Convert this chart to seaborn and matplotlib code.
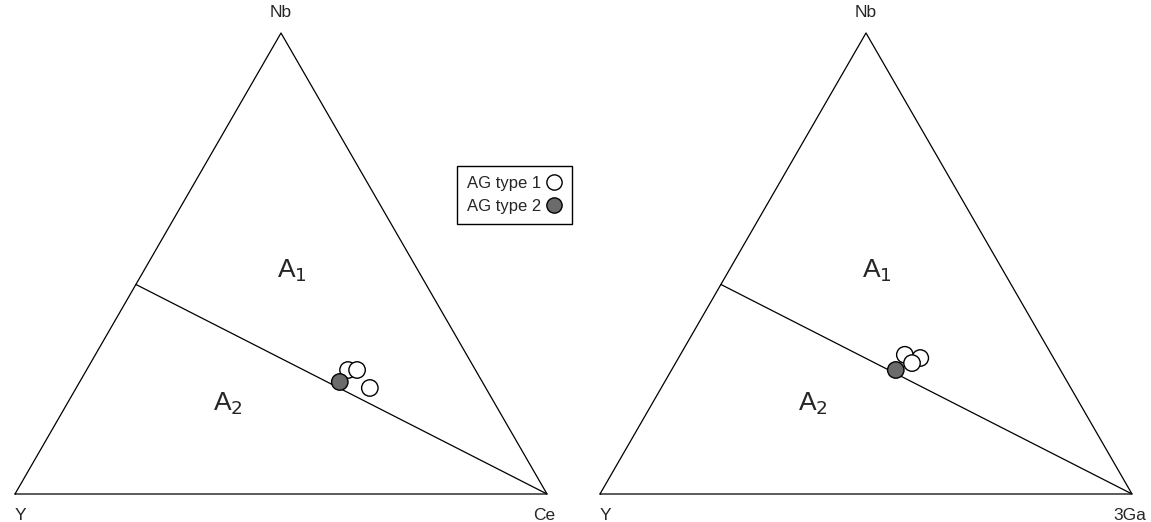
import numpy as np
import pandas as pd
import matplotlib

matplotlib.use('Agg')
import matplotlib.pyplot as plt
from matplotlib.lines import Line2D
import seaborn as sns

sns.set_style('white')
plt.rcParams['font.family'] = ['Liberation Sans', 'DejaVu Sans']

# --- dane: skład trójskładnikowy (ułamki) ---
# lewy diagram: Nb - Y - Ce
nb_left = [0.230, 0.269, 0.269, 0.243]
ce_left = [0.552, 0.4915, 0.5085, 0.489]
grp_left = ['AG type 1', 'AG type 1', 'AG type 1', 'AG type 2']

# prawy diagram: Nb - Y - 3Ga
nb_right = [0.302, 0.295, 0.284, 0.269]
ga_right = [0.422, 0.4545, 0.4445, 0.4215]
grp_right = ['AG type 1', 'AG type 1', 'AG type 1', 'AG type 2']

# granica A1/A2 (Eby 1992): Y/Nb = 1.2 na boku Y-Nb
nb_boundary = 1 / 2.2

palette = {'AG type 1': 'white', 'AG type 2': '#6b6b6b'}
H = np.sqrt(3) / 2


def to_xy(nb, other):
    nb = np.asarray(nb)
    other = np.asarray(other)
    return other + nb / 2, nb * H


def draw_ternary(ax, nb, other, groups, right_label):
    # trójkąt
    ax.plot([0, 1, 0.5, 0], [0, 0, H, 0], color='black', lw=0.9, clip_on=False)
    # linia podziału A1 / A2
    bx, by = to_xy([nb_boundary], [0.0])
    ax.plot([bx[0], 1], [by[0], 0], color='black', lw=0.9, clip_on=False)

    x, y = to_xy(nb, other)
    df = pd.DataFrame({'x': x, 'y': y, 'group': groups})
    sns.scatterplot(data=df, x='x', y='y', hue='group', palette=palette,
                    s=140, edgecolor='black', linewidth=1.0, legend=False,
                    ax=ax, zorder=3, clip_on=False)

    ax.text(0.5, H + 0.038, 'Nb', ha='center', va='center', fontsize=12.5)
    ax.text(0.01, -0.04, 'Y', ha='center', va='center', fontsize=12.5)
    ax.text(0.995, -0.04, right_label, ha='center', va='center', fontsize=12.5)
    ax.text(0.52, 0.42, 'A$_1$', ha='center', va='center', fontsize=19)
    ax.text(0.40, 0.17, 'A$_2$', ha='center', va='center', fontsize=19)

    ax.set_xlim(0, 1)
    ax.set_ylim(0, H)
    ax.set_axis_off()


fig = plt.figure(figsize=(11.51, 5.22), dpi=100)
ax1 = fig.add_axes([15 / 1151, 28 / 522, 532 / 1151, 461 / 522])
ax2 = fig.add_axes([600 / 1151, 28 / 522, 532 / 1151, 461 / 522])

draw_ternary(ax1, nb_left, ce_left, grp_left, 'Ce')
draw_ternary(ax2, nb_right, ga_right, grp_right, '3Ga')

handles = [Line2D([], [], ls='none', marker='o', markersize=11,
                  markerfacecolor=palette[g], markeredgecolor='black',
                  markeredgewidth=1.0, label=g) for g in palette]
fig.legend(handles=handles, loc='upper left',
           bbox_to_anchor=(449 / 1151, 1 - 158 / 522),
           markerfirst=False, fancybox=False, framealpha=1,
           edgecolor='black', fontsize=12, handlelength=0.9,
           handletextpad=0.3, borderpad=0.6, labelspacing=0.45,
           borderaxespad=0.5)

fig.savefig('out.png', dpi=100)
plt.close(fig)
